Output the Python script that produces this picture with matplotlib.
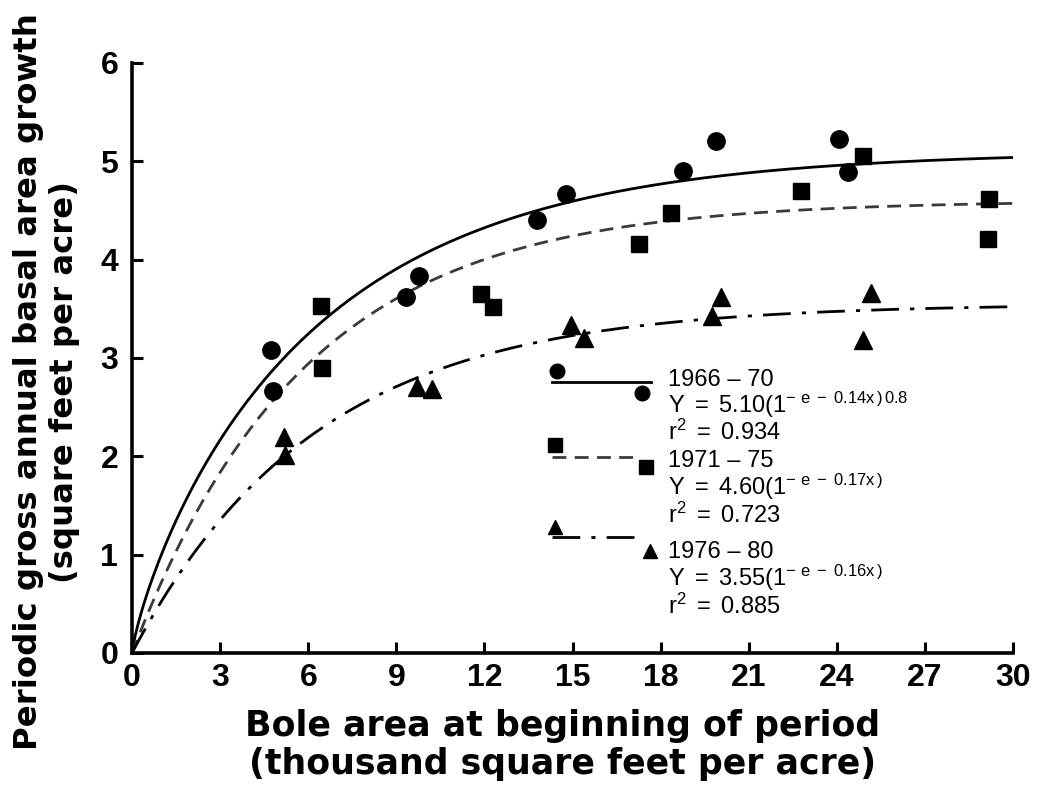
import matplotlib
matplotlib.use("Agg")
import matplotlib.pyplot as plt
import numpy as np

# fitted model parameters, as printed in the legend
periods = ["1966 – 70", "1971 – 75", "1976 – 80"]
coef_a = [5.10, 4.60, 3.55]
coef_k = [0.14, 0.17, 0.16]
coef_p = [0.8, 1.0, 1.0]
r_squared = ["0.934", "0.723", "0.885"]
equations = [r"$\mathrm{Y\ =\ 5.10(1^{-\ e\ -\ 0.14x\,)\,0.8}}$",
             r"$\mathrm{Y\ =\ 4.60(1^{-\ e\ -\ 0.17x\,)}}$",
             r"$\mathrm{Y\ =\ 3.55(1^{-\ e\ -\ 0.16x\,)}}$"]

x_6670 = [4.73, 4.80, 9.33, 9.77, 13.80, 14.78, 18.77, 19.90, 24.07, 24.38]
y_6670 = [3.08, 2.66, 3.62, 3.83, 4.40, 4.67, 4.90, 5.21, 5.23, 4.89]
x_7175 = [6.44, 6.47, 11.88, 12.29, 17.26, 18.35, 22.78, 24.89, 29.18, 29.15]
y_7175 = [3.53, 2.90, 3.65, 3.52, 4.16, 4.47, 4.70, 5.05, 4.62, 4.21]
x_7680 = [5.18, 5.21, 9.70, 10.20, 14.95, 15.40, 20.05, 19.75, 25.16, 24.90]
y_7680 = [2.20, 2.01, 2.70, 2.68, 3.34, 3.20, 3.62, 3.43, 3.66, 3.18]

xticks = [0, 3, 6, 9, 12, 15, 18, 21, 24, 27, 30]
yticks = [0, 1, 2, 3, 4, 5, 6]

plt.rcParams['font.family'] = ['Liberation Sans', 'DejaVu Sans']
plt.rcParams['mathtext.fontset'] = 'custom'
plt.rcParams['mathtext.rm'] = 'Liberation Sans'
plt.rcParams['mathtext.it'] = 'Liberation Sans'

fig = plt.figure(figsize=(10.53, 7.87), dpi=100)
ax = fig.add_axes([0.1254, 0.1703, 0.8367, 0.7497])

styles = [dict(ls='-', color='black', lw=2.0),
          dict(ls=(0, (5, 3)), color='#3a3a3a', lw=2.0),
          dict(ls=(0, (10, 4, 1.5, 4)), color='black', lw=2.0)]
markers = ['o', 's', '^']
msizes = [12.5, 12, 12.5]

xs = np.linspace(0, 30, 300)
for a, k, p, st in zip(coef_a, coef_k, coef_p, styles):
    ax.plot(xs, a * (1 - np.exp(-k * xs)) ** p, **st)

for xv, yv, m, s in zip([x_6670, x_7175, x_7680], [y_6670, y_7175, y_7680], markers, msizes):
    ax.plot(xv, yv, ls='none', marker=m, ms=s, color='black')

# hand-drawn legend, axes coordinates
leg_line_y = [0.4593, 0.3322, 0.1966]
leg_line_x1 = [0.5885, 0.5765, 0.5822]
leg_mark_ul = [(0.4824, 0.4780), (0.4801, 0.3525), (0.4801, 0.2136)]
leg_mark_lr = [(0.5789, 0.4407), (0.5834, 0.3153), (0.5879, 0.1729)]
leg_base = [(0.4525, 0.4068, 0.3610), (0.3153, 0.2678, 0.2203), (0.1610, 0.1136, 0.0661)]
for i in range(3):
    ax.plot([0.4767, leg_line_x1[i]], [leg_line_y[i]] * 2, transform=ax.transAxes,
            clip_on=False, **styles[i])
    for mx, my in (leg_mark_ul[i], leg_mark_lr[i]):
        ax.plot([mx], [my], transform=ax.transAxes, marker=markers[i],
                ms=msizes[i] - 2, color='black', clip_on=False)
    b1, b2, b3 = leg_base[i]
    ax.text(0.6084, b1, periods[i], transform=ax.transAxes, fontsize=17, va='baseline')
    ax.text(0.6084, b2, equations[i], transform=ax.transAxes, fontsize=17, va='baseline')
    ax.text(0.6084, b3, r"$\mathrm{r^{2}\ =\ " + r_squared[i] + "}$",
            transform=ax.transAxes, fontsize=17, va='baseline')

ax.set_xlim(0, 30)
ax.set_ylim(0, 6)
ax.set_xticks(xticks)
ax.set_yticks(yticks)
ax.spines['top'].set_visible(False)
ax.spines['right'].set_visible(False)
ax.spines['left'].set_linewidth(2.6)
ax.spines['bottom'].set_linewidth(2.6)
ax.tick_params(direction='in', length=8, width=2.2, labelsize=23)
ax.tick_params(axis='x', pad=7)
ax.tick_params(axis='y', pad=10)
for lab in ax.get_xticklabels() + ax.get_yticklabels():
    lab.set_fontweight('bold')

fig.text(0.534, 0.0534, 'Bole area at beginning of period\n(thousand square feet per acre)',
         fontsize=25, fontweight='bold', family='DejaVu Sans', ha='center', va='center',
         linespacing=1.15)
fig.text(0.0442, 0.5146, 'Periodic gross annual basal area growth\n(square feet per acre)',
         fontsize=23.3, fontweight='bold', family='DejaVu Sans', ha='center', va='center',
         rotation=90, linespacing=1.2)

fig.savefig('out.png', dpi=100)
